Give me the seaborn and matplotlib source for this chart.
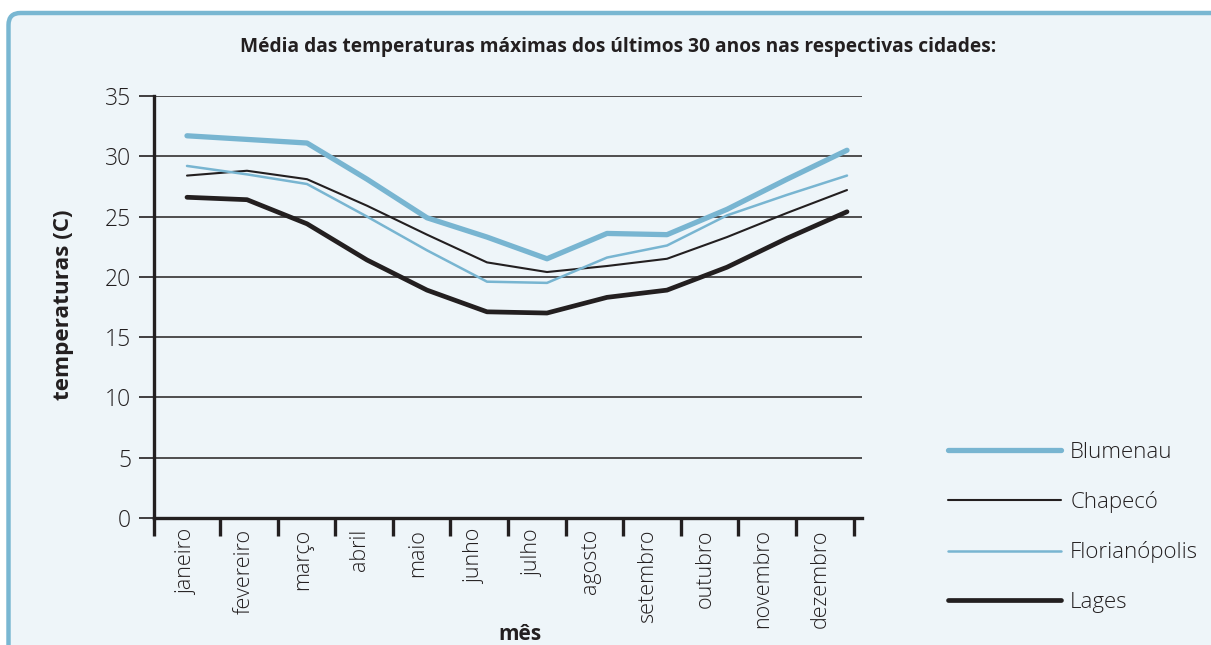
import numpy as np
import pandas as pd
import matplotlib.pyplot as plt
from matplotlib.patches import FancyBboxPatch
import seaborn as sns

# Dados (temperaturas máximas médias, °C)
meses = ['janeiro', 'fevereiro', 'março', 'abril', 'maio', 'junho',
         'julho', 'agosto', 'setembro', 'outubro', 'novembro', 'dezembro']
blumenau = [31.7, 31.4, 31.1, 28.1, 24.9, 23.3, 21.5, 23.6, 23.5, 25.6, 28.1, 30.5]
chapeco = [28.4, 28.8, 28.1, 25.9, 23.5, 21.2, 20.4, 20.9, 21.5, 23.3, 25.3, 27.2]
florianopolis = [29.2, 28.5, 27.7, 25.0, 22.2, 19.6, 19.5, 21.6, 22.6, 25.1, 26.8, 28.4]
lages = [26.6, 26.4, 24.4, 21.4, 18.9, 17.1, 17.0, 18.3, 18.9, 20.8, 23.2, 25.4]
cidades = ['Blumenau', 'Chapecó', 'Florianópolis', 'Lages']

df = pd.DataFrame({'mes': np.arange(12), 'Blumenau': blumenau, 'Chapecó': chapeco,
                   'Florianópolis': florianopolis, 'Lages': lages})
df = df.melt(id_vars='mes', var_name='cidade', value_name='temp')

azul = '#78b5d1'
preto = '#231f20'
cores = {'Blumenau': azul, 'Chapecó': preto, 'Florianópolis': azul, 'Lages': preto}
larguras = {'Blumenau': 3.8, 'Chapecó': 1.5, 'Florianópolis': 1.8, 'Lages': 3.4}

sns.set_style('white')
plt.rcParams['font.family'] = ['Open Sans', 'DejaVu Sans']
fundo = '#eef5f9'

fig = plt.figure(figsize=(12.11, 6.45), dpi=100)
fig.patch.set_facecolor('white')
painel = FancyBboxPatch((0.085, -0.5), 13, 6.32 + 0.5, boxstyle='round,pad=0,rounding_size=0.12',
                        transform=fig.dpi_scale_trans, facecolor=fundo, edgecolor='#79b7d2',
                        linewidth=3.2, zorder=-10)
fig.patches.append(painel)

ax = fig.add_axes([154 / 1211, 1 - 518 / 645, 708 / 1211, 422 / 645])
ax.set_facecolor('none')

for c in cidades:
    sns.lineplot(data=df[df['cidade'] == c], x='mes', y='temp', color=cores[c],
                 linewidth=larguras[c], label=c, ax=ax)

ax.set_xlim(-0.55, 11.25)
ax.set_ylim(0, 35)
esc = 57.6 / 60
ax.set_xticks(np.arange(12) * esc)
ax.set_xticklabels(meses, rotation=90, fontsize=15.5, color=preto, fontweight='light')
ax.set_xticks([-0.55] + list(0.55 + np.arange(12) * esc), minor=True)
ax.tick_params(axis='x', which='major', bottom=True, length=0, pad=8)
ax.tick_params(axis='x', which='minor', bottom=True, length=13, width=2.4, color=preto,
               direction='out')
ax.set_yticks(np.arange(0, 36, 5))
ax.tick_params(axis='y', left=True, length=11, width=1.2, color=preto, direction='out', pad=5.5,
               labelsize=16.5, labelcolor=preto)
for t in ax.get_yticklabels():
    t.set_fontweight('light')
ax.yaxis.grid(True, color=preto, linewidth=1.1)
ax.xaxis.grid(False)
for s in ['top', 'right']:
    ax.spines[s].set_visible(False)
for s in ['left', 'bottom']:
    ax.spines[s].set_color(preto)
    ax.spines[s].set_linewidth(2.4)

ax.set_xlabel('mês', fontsize=15, fontweight='bold', color=preto)
ax.xaxis.set_label_coords((520 - 154) / 708, (518 - 624) / 422)
ax.set_ylabel('temperaturas (C)', fontsize=16.2, fontweight='bold', color=preto)
ax.yaxis.set_label_coords((74 - 154) / 708, 0.505)

fig.text(618 / 1211, 1 - 47 / 645,
         'Média das temperaturas máximas dos últimos 30 anos nas respectivas cidades:',
         ha='center', va='center', fontsize=13.8, fontweight='bold', color=preto)

leg = ax.legend(loc='upper left', bbox_to_anchor=(928 / 1211, 1 - 422 / 645),
                bbox_transform=fig.transFigure, frameon=False, fontsize=16,
                handlelength=5.1, handletextpad=0.4, labelspacing=1.27)
for t in leg.get_texts():
    t.set_color(preto)
    t.set_fontweight('light')

fig.savefig('out.png', dpi=100, facecolor=fig.get_facecolor())
